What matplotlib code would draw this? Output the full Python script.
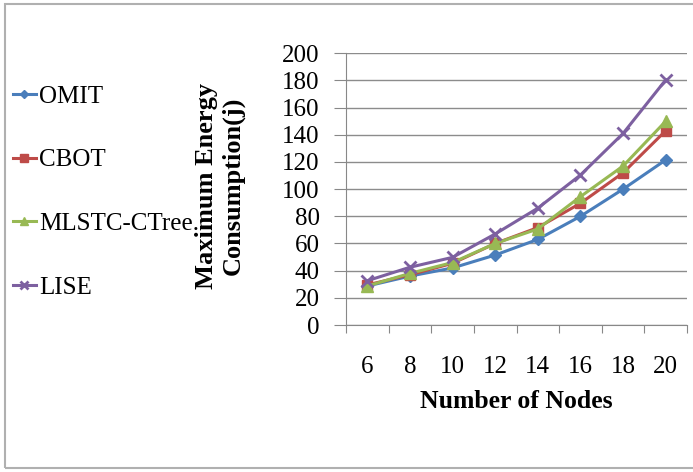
import matplotlib
matplotlib.use('agg')
from matplotlib import pyplot as plt
from matplotlib.patches import Rectangle

plt.rcParams['font.family'] = ['Liberation Serif', 'DejaVu Serif']

nodes = ['6', '8', '10', '12', '14', '16', '18', '20']
omit = [28.7, 36, 42, 51.5, 63, 80, 100, 121.5]
cbot = [29.5, 37, 45.4, 60, 71.7, 89.6, 112, 143]
mlstc = [28.7, 38, 46, 60, 70.7, 94.5, 117, 150]
lise = [32.6, 42.5, 49.8, 67, 86, 110.4, 141, 180.4]

series = [
    ('OMIT', omit, '#4a7ebb', 'D', 6),
    ('CBOT', cbot, '#be4b48', 's', 7),
    ('MLSTC-CTree.', mlstc, '#98b954', '^', 8),
    ('LISE', lise, '#7d60a0', 'x', 8),
]

W, H = 693, 472
fig = plt.figure(figsize=(W / 100, H / 100), dpi=100)

# outer frame like the pasted excel chart
fig.patches.append(Rectangle((5 / W, 1 - 468 / H), (W + 10) / W, (468 - 4) / H,
                             transform=fig.transFigure, fill=False,
                             edgecolor='#b0b0b0', linewidth=1.5))

ax = fig.add_axes([346 / W, 1 - 325 / H, (687 - 346) / W, (325 - 53.3) / H])

x = list(range(len(nodes)))
handles = []
for name, vals, color, mk, ms in series:
    mew = 2 if mk == 'x' else 1
    h, = ax.plot(x, vals, color=color, marker=mk, markersize=ms, linewidth=2.2,
                 markeredgewidth=mew, label=name)
    handles.append(h)

ax.set_ylim(0, 200)
ax.set_yticks(range(0, 201, 20))
ax.set_xlim(-0.5, len(nodes) - 0.5)
ax.set_xticks([i - 0.5 for i in range(len(nodes) + 1)])
ax.set_xticklabels([])
ax.set_xticks(x, minor=True)
ax.set_xticklabels(nodes, minor=True)
ax.tick_params(axis='x', which='minor', length=0, pad=22, labelsize=18)
ax.tick_params(axis='x', which='major', length=6, color='#888888', direction='out')
ax.tick_params(axis='y', length=9, color='#888888', labelsize=18, pad=10)

ax.grid(axis='y', color='#8c8c8c', linewidth=1)
ax.set_axisbelow(True)
for s in ['top', 'right']:
    ax.spines[s].set_visible(False)
for s in ['left', 'bottom']:
    ax.spines[s].set_color('#888888')

fig.text(516 / W, 1 - 401 / H, 'Number of Nodes', ha='center', va='center',
         fontsize=18.5, fontweight='bold')
fig.text(220 / W, 1 - 186 / H, 'Maximum Energy\nConsumption(j)', rotation=90,
         ha='center', va='center', fontsize=19, fontweight='bold',
         multialignment='center', linespacing=1.15)

fig.legend(handles=handles, loc='center left', bbox_to_anchor=(13 / W, 1 - 192 / H),
           frameon=False, fontsize=18, handlelength=0.9, handletextpad=0.15,
           labelspacing=1.65, borderaxespad=0, borderpad=0, markerscale=0.75)

fig.savefig('out.png', dpi=100)
